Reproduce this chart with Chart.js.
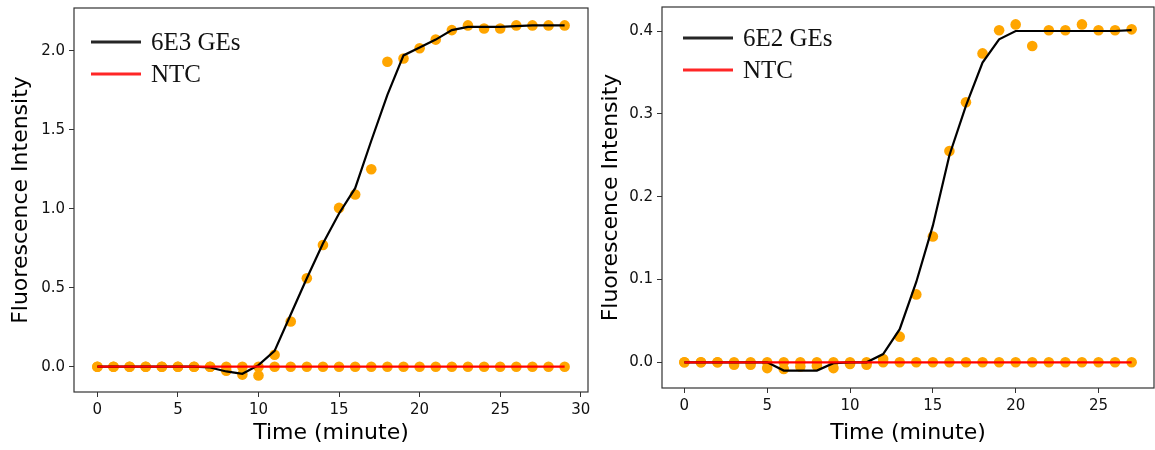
<!DOCTYPE html>
<html><head><meta charset="utf-8">
<script src="https://cdn.jsdelivr.net/npm/chart.js@4.4.1/dist/chart.umd.min.js"></script>
<style>
html,body{margin:0;padding:0;background:#fff;width:1155px;height:450px;overflow:hidden}
#c1{position:absolute;left:0;top:0}
#c2{position:absolute;left:590px;top:0}
</style></head><body>
<canvas id="c1" width="600" height="450"></canvas>
<canvas id="c2" width="565" height="450"></canvas>
<script>
// ---- Left panel (6E3 GEs) ----
const leftTime = [0,1,2,3,4,5,6,7,8,9,10,11,12,13,14,15,16,17,18,19,20,21,22,23,24,25,26,27,28,29];
const leftSamplePoints = [0,0,0,0,0,0,0,0,-0.025,-0.05,-0.055,0.076,0.286,0.56,0.77,1.005,1.09,1.25,1.93,1.95,2.015,2.07,2.13,2.16,2.14,2.14,2.16,2.16,2.16,2.16];
const leftSampleFit = [0,0,0,0,0,0,0,-0.005,-0.03,-0.045,0.01,0.1,0.33,0.56,0.78,0.97,1.13,1.43,1.72,1.97,2.02,2.07,2.13,2.15,2.15,2.15,2.155,2.16,2.16,2.16];
const leftNTCPoints = [0,0,0,0,0,0,0,0,0,0,0,0,0,0,0,0,0,0,0,0,0,0,0,0,0,0,0,0,0,0];
const leftNTCFit = [0,0,0,0,0,0,0,0,0,0,0,0,0,0,0,0,0,0,0,0,0,0,0,0,0,0,0,0,0,0];
const leftXTicks = [0,5,10,15,20,25,30];
const leftYTicks = [0,0.5,1.0,1.5,2.0];
const leftSampleLabel = '6E3 GEs';

// ---- Right panel (6E2 GEs) ----
const rightTime = [0,1,2,3,4,5,6,7,8,9,10,11,12,13,14,15,16,17,18,19,20,21,22,23,24,25,26,27];
const rightSamplePoints = [0,0,0,-0.003,-0.003,-0.007,-0.008,-0.005,-0.004,-0.007,-0.002,-0.003,0.004,0.031,0.082,0.152,0.255,0.314,0.373,0.401,0.408,0.382,0.401,0.401,0.408,0.401,0.401,0.402];
const rightSampleFit = [0,0,0,0,0,0,-0.01,-0.01,-0.01,-0.001,0,0,0.01,0.04,0.097,0.165,0.25,0.31,0.362,0.39,0.4,0.4,0.4,0.4,0.4,0.4,0.4,0.401];
const rightNTCPoints = [0,0,0,0,0,0,0,0,0,0,0,0,0,0,0,0,0,0,0,0,0,0,0,0,0,0,0,0];
const rightNTCFit = [0,0,0,0,0,0,0,0,0,0,0,0,0,0,0,0,0,0,0,0,0,0,0,0,0,0,0,0];
const rightXTicks = [0,5,10,15,20,25];
const rightYTicks = [0,0.1,0.2,0.3,0.4];
const rightSampleLabel = '6E2 GEs';

const ntcLabel = 'NTC';
const xTitle = 'Time (minute)';
const yTitle = 'Fluorescence Intensity';

const toXY = (xs, ys) => xs.map((x, i) => ({x: x, y: ys[i]}));

const framePlugin = {
  id: 'frame',
  afterDraw(chart) {
    const {ctx, chartArea: a} = chart;
    ctx.save();
    ctx.strokeStyle = '#333';
    ctx.lineWidth = 1.2;
    ctx.strokeRect(a.left, a.top, a.right - a.left, a.bottom - a.top);
    ctx.restore();
  }
};

const miniLegend = {
  id: 'miniLegend',
  afterDraw(chart, args, o) {
    const {ctx, chartArea: a} = chart;
    ctx.save();
    o.items.forEach((idx, i) => {
      const ds = chart.data.datasets[idx];
      const y = a.top + o.top + i * o.spacing;
      const x0 = a.left + o.left;
      ctx.globalAlpha = 0.85;
      ctx.strokeStyle = ds.borderColor;
      ctx.lineWidth = 3;
      ctx.beginPath(); ctx.moveTo(x0, y); ctx.lineTo(x0 + 50, y); ctx.stroke();
      ctx.globalAlpha = 1;
      ctx.fillStyle = '#111';
      ctx.font = '25px "Liberation Serif"';
      ctx.textBaseline = 'middle';
      ctx.textAlign = 'left';
      ctx.fillText(ds.label, x0 + 60, y + 1);
    });
    ctx.restore();
  }
};

function makeChart(id, cfg) {
  return new Chart(document.getElementById(id), {
    type: 'line',
    data: {
      datasets: [
        {label: cfg.sampleLabel, data: toXY(cfg.time, cfg.fit), borderColor: '#000', borderWidth: 2.2,
         pointRadius: 0, fill: false, tension: 0, order: 1},
        {label: ntcLabel, data: toXY(cfg.time, cfg.ntcFit), borderColor: '#ff0000', borderWidth: 2.2,
         pointRadius: 0, fill: false, tension: 0, order: 0},
        {type: 'scatter', label: 'sample pts', data: toXY(cfg.time, cfg.points), showLine: false,
         backgroundColor: '#ffa500', borderWidth: 0, pointRadius: 5.3, order: 2},
        {type: 'scatter', label: 'ntc pts', data: toXY(cfg.time, cfg.ntcPoints), showLine: false,
         backgroundColor: '#ffa500', borderWidth: 0, pointRadius: 5.3, order: 3}
      ]
    },
    options: {
      responsive: false,
      animation: false,
      devicePixelRatio: 1,
      layout: {autoPadding: false, padding: cfg.padding},
      plugins: {
        legend: {display: false},
        tooltip: {enabled: false},
        miniLegend: cfg.legend
      },
      scales: {
        x: {
          type: 'linear', min: cfg.xmin, max: cfg.xmax,
          afterBuildTicks: s => { s.ticks = cfg.xTicks.map(v => ({value: v})); },
          afterFit: s => { s.height = cfg.xAxisHeight; s.paddingLeft = 0; s.paddingRight = 0; },
          ticks: {callback: v => String(v), font: {family: 'DejaVu Sans', size: 15}, color: '#111',
                  padding: 4, maxRotation: 0, autoSkip: false},
          grid: {display: true, drawOnChartArea: false, drawTicks: true, tickLength: 5, tickColor: '#333'},
          border: {display: false},
          title: {display: true, text: xTitle, font: {family: 'DejaVu Sans', size: 22}, color: '#000',
                  padding: {top: 0, bottom: 4}}
        },
        y: {
          type: 'linear', min: cfg.ymin, max: cfg.ymax,
          afterBuildTicks: s => { s.ticks = cfg.yTicks.map(v => ({value: v})); },
          afterFit: s => { s.width = cfg.yAxisWidth; s.paddingTop = 0; s.paddingBottom = 0; },
          ticks: {callback: v => Number(v).toFixed(1), font: {family: 'DejaVu Sans', size: 15}, color: '#111',
                  padding: 4, autoSkip: false},
          grid: {display: true, drawOnChartArea: false, drawTicks: true, tickLength: 5, tickColor: '#333'},
          border: {display: false},
          title: {display: true, text: yTitle, font: {family: 'DejaVu Sans', size: 22}, color: '#000',
                  padding: {top: 8, bottom: 0}}
        }
      }
    },
    plugins: [framePlugin, miniLegend]
  });
}

makeChart('c1', {
  time: leftTime, points: leftSamplePoints, fit: leftSampleFit, ntcPoints: leftNTCPoints, ntcFit: leftNTCFit,
  sampleLabel: leftSampleLabel, xTicks: leftXTicks, yTicks: leftYTicks,
  xmin: -1.45, xmax: 30.45, ymin: -0.16, ymax: 2.27,
  padding: {left: 0, right: 12, top: 8, bottom: 0}, xAxisHeight: 58, yAxisWidth: 74,
  legend: {items: [0, 1], left: 17, top: 34, spacing: 32}
});

makeChart('c2', {
  time: rightTime, points: rightSamplePoints, fit: rightSampleFit, ntcPoints: rightNTCPoints, ntcFit: rightNTCFit,
  sampleLabel: rightSampleLabel, xTicks: rightXTicks, yTicks: rightYTicks,
  xmin: -1.35, xmax: 28.35, ymin: -0.031, ymax: 0.429,
  padding: {left: 0, right: 1, top: 7, bottom: 0}, xAxisHeight: 62, yAxisWidth: 72,
  legend: {items: [0, 1], left: 21, top: 31, spacing: 32}
});
</script>
</body></html>
